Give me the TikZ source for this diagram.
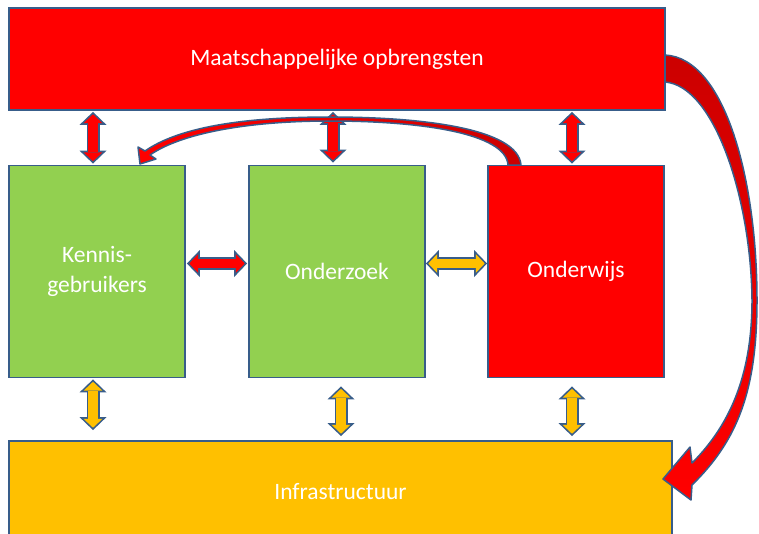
\documentclass[tikz,border=0pt]{standalone}
\usepackage{fontspec}
\setmainfont{Carlito}
\usetikzlibrary{arrows.meta}
\usetikzlibrary{calc}
\usepackage{xcolor}
\definecolor{myred}{HTML}{FF0000}
\definecolor{mygreen}{HTML}{92D050}
\definecolor{myyellow}{HTML}{FFC000}
\definecolor{myrim}{HTML}{385D8A}
\colorlet{mydarkred}{myred!80!black}
\tikzset{
  box/.style={draw=myrim,line width=1.8,text=white,inner sep=0,align=center,
    font={\fontsize{23.5}{30}\selectfont}},
  box wide/.style={box,minimum width=656,minimum height=102},
  box tall/.style={box,minimum width=176,minimum height=212},
  arrow rim/.style={myrim,line width=13,>={Triangle[length=13pt,width=27pt,line width=0pt]},<->},
  arrow core/.style={line width=9.5,>={Triangle[length=8.8pt,width=18.6pt,line width=0pt]},<->,
    shorten <=2.4pt,shorten >=2.4pt},
  bent arrow/.style={draw=myrim,line width=1.5,line join=round}
}
% outlined double block arrow: colour, from, to
\newcommand{\blockarrow}[3]{%
  \draw[arrow rim] (#2) -- (#3);
  \draw[arrow core,#1] (#2) -- (#3);}

\begin{document}
\begin{tikzpicture}[x=1pt,y=-1pt]
  \useasboundingbox (0,0) rectangle (759,533);
  \clip (0,0) rectangle (759,533);

  \node[box wide,fill=myred] (maat) at (337,59) {Maatschappelijke opbrengsten};
  \node[box tall,fill=mygreen] (kennis) at (97,271.5) {Kennis-\\gebruikers};
  \node[box tall,fill=mygreen] (onderzoek) at (337,271.5) {Onderzoek};
  \node[box tall,fill=myred] (onderwijs) at (576,271.5) {Onderwijs};
  \node[box,fill=myyellow,minimum width=663,minimum height=102] (infra) at (340.5,492) {Infrastructuur};

  % arrows to the top row
  \blockarrow{myred}{$(kennis.north)+(-4,-1)$}{$(kennis.north |- maat.south)+(-4,1)$}
  \blockarrow{myred}{$(onderzoek.north)+(-4,-2)$}{$(onderzoek.north |- maat.south)+(-4,1)$}
  \blockarrow{myred}{$(onderwijs.north)+(-4,-1)$}{$(onderwijs.north |- maat.south)+(-4,1)$}
  % arrows between the boxes
  \blockarrow{myred}{$(kennis.east)+(1,-8)$}{$(onderzoek.west)+(-1,-8)$}
  \blockarrow{myyellow}{$(onderzoek.east)+(0,-8)$}{$(onderwijs.west)+(0,-8)$}
  % arrows to the bottom row
  \blockarrow{myyellow}{$(kennis.south)+(-4,1)$}{$(kennis.south |- infra.north)+(-4,-10)$}
  \blockarrow{myyellow}{$(onderzoek.south)+(4,8)$}{$(onderzoek.south |- infra.north)+(4,-4)$}
  \blockarrow{myyellow}{$(onderwijs.south)+(-4,8)$}{$(onderwijs.south |- infra.north)+(-4,-4)$}

  % curved arrow from Onderwijs back to Kennisgebruikers
  \draw[bent arrow,left color=myred,middle color=myred,right color=mydarkred]
    (521,165) .. controls (518,128) and (420,117) .. (330,117)
    .. controls (240,117) and (178,128) .. (145,151) -- (138,147) -- (140,164)
    -- (156,159) -- (150,155) .. controls (180,134) and (245,121) .. (330,121)
    .. controls (420,121) and (506,133) .. (508,165) -- cycle;

  % curved arrow from the top box down to Infrastructuur
  \draw[bent arrow,top color=mydarkred,middle color=mydarkred,bottom color=myred]
    (665,55) .. controls (725,58) and (757,180) .. (757,300)
    .. controls (757,390) and (738,440) .. (692,485) -- (691,500) -- (663,479)
    -- (690,447) -- (692,463) .. controls (733,422) and (752,370) .. (752,300)
    .. controls (751,200) and (715,86) .. (665,82) -- cycle;
\end{tikzpicture}
\end{document}
